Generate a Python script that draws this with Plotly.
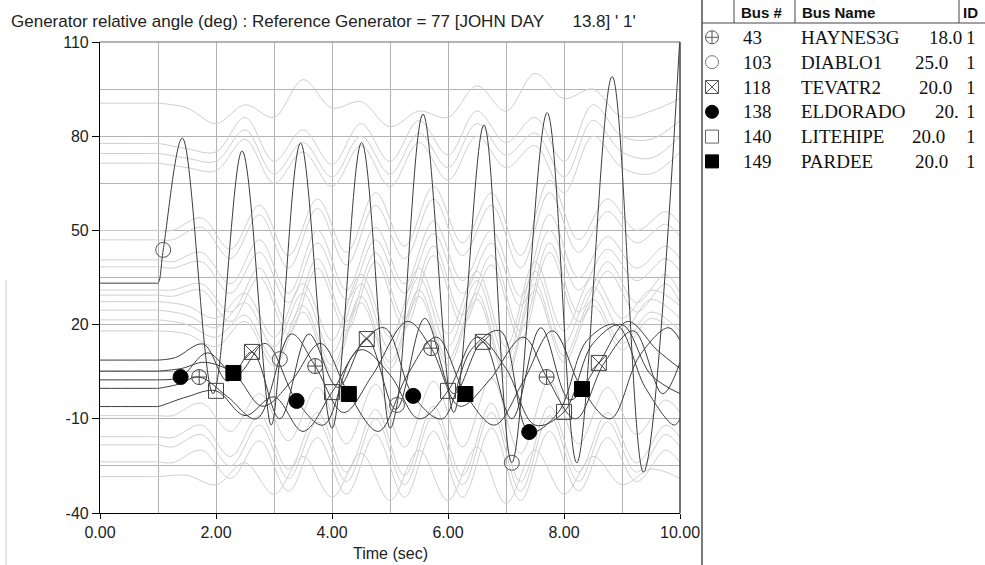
import plotly.graph_objects as go

# ---------------- data ----------------
X_TICKS = [0, 2, 4, 6, 8, 10]
X_TICKTEXT = ["0.00", "2.00", "4.00", "6.00", "8.00", "10.00"]
Y_TICKS = [-40, -10, 20, 50, 80, 110]
Y_TICKTEXT = ["-40", "-10", "20", "50", "80", "110"]

# time bases for the background (grey) generators
TG_A = [0.0, 0.9, 1.0, 1.5, 2.0, 2.5, 3.0, 3.5, 4.0, 4.5, 5.0, 5.5, 6.0, 6.5, 7.0, 7.5, 8.0, 8.5, 9.0, 9.5, 10.0]
TG_B = [0.0, 0.9, 1.0, 1.25, 1.75, 2.25, 2.75, 3.25, 3.75, 4.25, 4.75, 5.25, 5.75, 6.25, 6.75, 7.25, 7.75, 8.25, 8.75, 9.25, 9.75, 10.0]

g01 = [90.5, 90.5, 90.5, 89, 84, 90, 86, 98, 89, 91, 83, 88, 86, 96, 88, 100, 92, 95, 86, 88, 92]
g02 = [77.7, 77.7, 77.7, 76, 75, 86, 72, 82, 71, 84, 72, 85, 74, 88, 78, 86, 72, 90, 80, 79, 85]
g03 = [74.5, 74.5, 74.5, 73, 72, 82, 68, 78, 67, 80, 68, 81, 70, 84, 74, 81, 67, 85, 75, 73, 80]
g04 = [71.4, 71.4, 71.4, 70, 69, 79, 65, 75, 64, 77, 64, 78, 66, 80, 70, 77, 62, 80, 70, 68, 75]
g05 = [50, 50, 50, 50, 54, 44, 58, 42, 60, 43, 62, 45, 64, 46, 62, 42, 66, 47, 60, 50, 56, 52]
g06 = [47, 47, 47, 47, 51, 41, 55, 38, 57, 39, 58, 41, 60, 42, 58, 38, 62, 43, 56, 46, 52, 48]
g07 = [40.6, 40.6, 40.6, 40, 43, 33, 47, 30, 50, 31, 51, 33, 53, 34, 50, 29, 55, 35, 48, 38, 45, 41]
g08 = [38.4, 38.4, 38.4, 38, 40, 30, 43, 27, 46, 28, 47, 30, 49, 30, 46, 26, 50, 31, 44, 34, 41, 37]
g09 = [31, 31, 31, 31, 33, 24, 38, 20, 41, 21, 43, 22, 45, 23, 42, 18, 46, 24, 40, 27, 36, 30]
g10 = [29.4, 29.4, 29.4, 29, 31, 21, 35, 17, 38, 18, 40, 19, 42, 20, 39, 15, 43, 21, 37, 24, 33, 27]
g11 = [27.3, 27.3, 27.3, 26, 22, 30, 16, 33, 15, 36, 16, 38, 17, 37, 13, 40, 18, 35, 22, 31, 26]
g12 = [24.6, 24.6, 24.6, 23, 19, 27, 13, 30, 11, 33, 12, 35, 13, 34, 9, 37, 14, 32, 18, 28, 22]
g13 = [21.5, 21.5, 21.5, 20, 16, 23, 9, 26, 7, 29, 8, 31, 9, 30, 5, 33, 10, 28, 14, 24, 18]
g14 = [-15.7, -15.7, -15.7, -16, -12, -22, -9, -26, -8, -27, -7, -28, -6, -28, -5, -30, -6, -27, -8, -24, -12, -16]
g15 = [-18.3, -18.3, -18.3, -19, -15, -25, -12, -29, -11, -30, -10, -31, -9, -31, -8, -33, -9, -30, -11, -27, -15, -19]
g16 = [-23.7, -23.7, -23.7, -24, -20, -29, -17, -33, -16, -34, -15, -35, -14, -35, -13, -36, -14, -33, -16, -30, -20, -24]
g17 = [-28.4, -28.4, -28.4, -28, -31, -24, -34, -22, -35, -21, -36, -20, -36, -19, -37, -20, -34, -22, -31, -26, -29]
g18 = [18, 18, 18, 17, 13, 21, 7, 24, 5, 27, 6, 29, 7, 28, 3, 31, 8, 26, 12, 22, 16]
g19 = [-9, -9, -9, -9, -5, -14, -2, -17, 0, -18, 1, -19, 2, -19, 3, -21, 2, -18, 0, -15, -4, -8]

# highlighted generators (line keypoints)
t_diablo = [0, 0.95, 1.0, 1.09, 1.42, 1.95, 2.45, 2.95, 3.1, 3.46, 4.0, 4.51, 5.0, 5.12, 5.57, 6.1, 6.62, 7.1, 7.71, 8.22, 8.83, 9.37, 10.0]
v_diablo = [33.2, 33.2, 33.2, 43.8, 79.4, -2, 75.3, -12, 9, 77.8, -13, 78, -13, -5.6, 87, -8, 83.6, -24, 87.5, -24, 99, -27, 112]

t_haynes = [0, 0.95, 1.0, 1.35, 1.71, 2.2, 2.7, 3.3, 3.71, 4.2, 4.7, 5.3, 5.71, 6.2, 6.7, 7.3, 7.7, 8.2, 8.7, 9.2, 9.7, 10.0]
v_haynes = [-0.3, -0.3, -0.3, 1, 3.3, -3, -10, 17, 6.8, -8, 4, 21, 12.5, -6, 2, 16, 3.3, -10, 8, 18, -2, 8]

t_tevatr = [0, 0.95, 1.0, 1.3, 1.78, 2.2, 2.62, 3.1, 3.6, 4.1, 4.6, 5.1, 5.6, 6.1, 6.6, 7.1, 7.6, 8.1, 8.6, 9.1, 9.6, 10.0]
v_tevatr = [8.7, 8.7, 8.7, 9.5, 13.8, 2, 11.3, -10, 17, 0, 15.4, -7, 22, -2, 14.5, -10, 19, -4, 7.8, 21, 12, 6]

t_eldor = [0, 0.95, 1.0, 1.39, 1.85, 2.35, 2.85, 3.39, 3.85, 4.35, 4.9, 5.4, 5.9, 6.4, 6.9, 7.4, 7.9, 8.4, 8.9, 9.4, 9.9, 10.0]
v_eldor = [2.4, 2.4, 2.4, 3.3, 11, 4, 14, -4.3, -12, 10, 19, -2.7, -10, 12, 18, -14.2, -8, 15, 20, 0, -12, -10]

t_lite = [0, 0.95, 1.0, 1.5, 2.0, 2.5, 3.0, 3.5, 4.0, 4.5, 5.0, 5.5, 6.0, 6.5, 7.0, 7.5, 8.0, 8.5, 9.0, 9.5, 10.0]
v_lite = [-6.1, -6.1, -6.1, -3, -1.1, -9, -3, -14, -1.5, 12, 4, -10, -1.1, 16, 6, -12, -7.8, 14, 20, 4, -2]

t_pardee = [0, 0.95, 1.0, 1.4, 1.8, 2.3, 2.8, 3.3, 3.8, 4.29, 4.8, 5.3, 5.8, 6.3, 6.8, 7.3, 7.8, 8.31, 8.8, 9.3, 9.8, 10.0]
v_pardee = [5.2, 5.2, 5.2, 6, 8, 4.6, -6, 2, 14, -2.1, -14, 4, 16, -2.1, -12, 2, 18, -0.5, -10, 10, 19, 15]

# marker positions
mt_haynes = [1.71, 3.71, 5.71, 7.7]
mv_haynes = [3.3, 6.8, 12.5, 3.3]
mt_diablo = [1.09, 3.1, 5.12, 7.1]
mv_diablo = [43.8, 9, -5.6, -24]
mt_tevatr = [2.62, 4.6, 6.6, 8.6]
mv_tevatr = [11.3, 15.4, 14.5, 7.8]
mt_eldor = [1.39, 3.39, 5.4, 7.4]
mv_eldor = [3.3, -4.3, -2.7, -14.2]
mt_lite = [2.0, 4.0, 6.0, 8.0]
mv_lite = [-1.1, -1.5, -1.1, -7.8]
mt_pardee = [2.3, 4.29, 6.3, 8.31]
mv_pardee = [4.6, -2.1, -2.1, -0.5]

# legend table
LEG_BUS = ["43", "103", "118", "138", "140", "149"]
LEG_NAME = ["HAYNES3G", "DIABLO1", "TEVATR2", "ELDORADO", "LITEHIPE", "PARDEE"]
LEG_KV = ["18.0", "25.0", "20.0", "20.", "20.0", "20.0"]
LEG_ID = ["1", "1", "1", "1", "1", "1"]

TITLE = ("Generator relative angle (deg) : Reference Generator = 77 [JOHN DAY"
         + "\u00a0" * 6 + "13.8] ' 1'")
XTITLE = "Time (sec)"

# ---------------- layout helpers (pixel -> paper, full-figure paper) ----------------
W, H = 985, 565
L, R, T, B = 100, 680, 42, 513
XMIN, XMAX, YMIN, YMAX = 0, 10, -40, 110


def fx(px):
    return px / W


def fy(py):
    return 1 - py / H


GREY = "#cfcfcf"
DARK = "#3c3c3c"

fig = go.Figure()

greysA = [g01, g02, g03, g04, g11, g12, g13, g17, g18]
greysB = [g05, g06, g07, g08, g09, g10, g14, g15, g16, g19]
for g in greysA:
    fig.add_trace(go.Scatter(x=TG_A, y=g, mode="lines",
                             line=dict(color=GREY, width=1, shape="spline", smoothing=1),
                             hoverinfo="skip", showlegend=False))
for g in greysB:
    fig.add_trace(go.Scatter(x=TG_B, y=g, mode="lines",
                             line=dict(color=GREY, width=1, shape="spline", smoothing=1),
                             hoverinfo="skip", showlegend=False))

series = {
    "diablo": (t_diablo, v_diablo, mt_diablo, mv_diablo, "circle-open", "#555555"),
    "haynes": (t_haynes, v_haynes, mt_haynes, mv_haynes, "circle-cross-open", "#444444"),
    "tevatr": (t_tevatr, v_tevatr, mt_tevatr, mv_tevatr, "square-x-open", "#444444"),
    "eldor": (t_eldor, v_eldor, mt_eldor, mv_eldor, "circle", "#000000"),
    "lite": (t_lite, v_lite, mt_lite, mv_lite, "square-open", "#444444"),
    "pardee": (t_pardee, v_pardee, mt_pardee, mv_pardee, "square", "#000000"),
}
for t, v, mt, mv, sym, col in series.values():
    fig.add_trace(go.Scatter(x=t, y=v, mode="lines",
                             line=dict(color=DARK, width=1, shape="spline", smoothing=1),
                             hoverinfo="skip", showlegend=False))
for t, v, mt, mv, sym, col in series.values():
    fig.add_trace(go.Scatter(x=mt, y=mv, mode="markers",
                             marker=dict(symbol=sym, size=15, color=col,
                                         line=dict(color=col, width=1)),
                             hoverinfo="skip", showlegend=False))

# legend icons on an auxiliary pixel-scaled axis pair covering the table panel
row_y = [37.3, 62.2, 87.0, 111.8, 136.6, 161.4]
order = ["haynes", "diablo", "tevatr", "eldor", "lite", "pardee"]
leg_syms = [series[k][4] for k in order]
leg_cols = ["#555555", "#777777", "#555555", "#000000", "#666666", "#000000"]
fig.add_trace(go.Scatter(x=[712] * 6, y=row_y, mode="markers", xaxis="x2", yaxis="y2",
                         marker=dict(symbol=leg_syms, size=13, color=leg_cols,
                                     line=dict(color=leg_cols, width=1)),
                         cliponaxis=False, hoverinfo="skip", showlegend=False))

annotations = []
serif = dict(family="Liberation Serif, Times New Roman, serif", size=19, color="#111111")
hdr = dict(family="Liberation Sans, Arial, sans-serif", size=15, color="#111111")
kv_x = [927, 913, 917, 933, 910, 913]
for i, y in enumerate(row_y):
    for txt, x0 in [(LEG_BUS[i], 741), (LEG_NAME[i], 799), (LEG_KV[i], kv_x[i]), (LEG_ID[i], 964)]:
        annotations.append(dict(text=txt, x=fx(x0), y=fy(y), xref="paper", yref="paper",
                                xanchor="left", yanchor="middle", showarrow=False, font=serif))
for txt, x0 in [("<b>Bus #</b>", 739), ("<b>Bus Name</b>", 800), ("<b>ID</b>", 961)]:
    annotations.append(dict(text=txt, x=fx(x0), y=fy(12.5), xref="paper", yref="paper",
                            xanchor="left", yanchor="middle", showarrow=False, font=hdr))

axis_font = dict(family="Liberation Sans, Arial, sans-serif", size=16, color="#222222")
annotations.append(dict(text=TITLE, x=fx(9), y=fy(21), xref="paper", yref="paper",
                        xanchor="left", yanchor="middle", showarrow=False,
                        font=dict(family="Liberation Sans, Arial, sans-serif", size=17, color="#222222")))
annotations.append(dict(text=XTITLE, x=fx(390), y=fy(553), xref="paper", yref="paper",
                        xanchor="center", yanchor="middle", showarrow=False, font=axis_font))

shapes = [
    # plot frame (top grey, right dark)
    dict(type="line", xref="paper", yref="paper", x0=fx(L), x1=fx(R), y0=fy(T), y1=fy(T),
         line=dict(color="#9a9a9a", width=1.5)),
    dict(type="line", xref="paper", yref="paper", x0=fx(R), x1=fx(R), y0=fy(B), y1=fy(T),
         line=dict(color="#444444", width=1.5)),
    # legend panel separators
    dict(type="line", xref="paper", yref="paper", x0=fx(702), x1=fx(702), y0=fy(0), y1=fy(565),
         line=dict(color="#222222", width=1.2)),
    dict(type="line", xref="paper", yref="paper", x0=fx(702), x1=fx(985), y0=fy(23), y1=fy(23),
         line=dict(color="#444444", width=1)),
    dict(type="line", xref="paper", yref="paper", x0=fx(734), x1=fx(734), y0=fy(0), y1=fy(23),
         line=dict(color="#444444", width=1)),
    dict(type="line", xref="paper", yref="paper", x0=fx(795), x1=fx(795), y0=fy(0), y1=fy(23),
         line=dict(color="#444444", width=1)),
    dict(type="line", xref="paper", yref="paper", x0=fx(959), x1=fx(959), y0=fy(0), y1=fy(23),
         line=dict(color="#444444", width=1)),
    # faint outer frame on the left
    dict(type="line", xref="paper", yref="paper", x0=fx(6), x1=fx(6), y0=fy(280), y1=fy(565),
         line=dict(color="#cccccc", width=1)),
]

fig.update_layout(
    width=W, height=H,
    margin=dict(l=0, r=0, t=0, b=0, pad=0),
    paper_bgcolor="white", plot_bgcolor="white",
    showlegend=False,
    xaxis=dict(domain=[fx(L), fx(R)], range=[XMIN, XMAX], tickvals=X_TICKS, ticktext=X_TICKTEXT,
               ticks="outside", ticklen=5, tickcolor="#000", tickwidth=1, automargin=False,
               showline=True, linecolor="#000", linewidth=1.2,
               showgrid=True, gridcolor="#b3b3b3", gridwidth=1, zeroline=False,
               minor=dict(dtick=1, tick0=0, showgrid=True, gridcolor="#b3b3b3", gridwidth=1, ticks=""),
               tickfont=axis_font),
    yaxis=dict(domain=[fy(B), fy(T)], range=[YMIN, YMAX], tickvals=Y_TICKS, ticktext=Y_TICKTEXT,
               ticks="outside", ticklen=7, tickcolor="#000", tickwidth=1, automargin=False,
               showline=True, linecolor="#000", linewidth=1.2,
               showgrid=True, gridcolor="#b3b3b3", gridwidth=1, zeroline=False,
               minor=dict(dtick=15, tick0=-40, showgrid=True, gridcolor="#b3b3b3", gridwidth=1, ticks=""),
               tickfont=axis_font),
    xaxis2=dict(domain=[fx(702), 1], range=[702, 985], visible=False, fixedrange=True, anchor="y2"),
    yaxis2=dict(domain=[0, 1], range=[565, 0], visible=False, fixedrange=True, anchor="x2"),
    annotations=annotations,
    shapes=shapes,
)

fig.write_html("out.html")
